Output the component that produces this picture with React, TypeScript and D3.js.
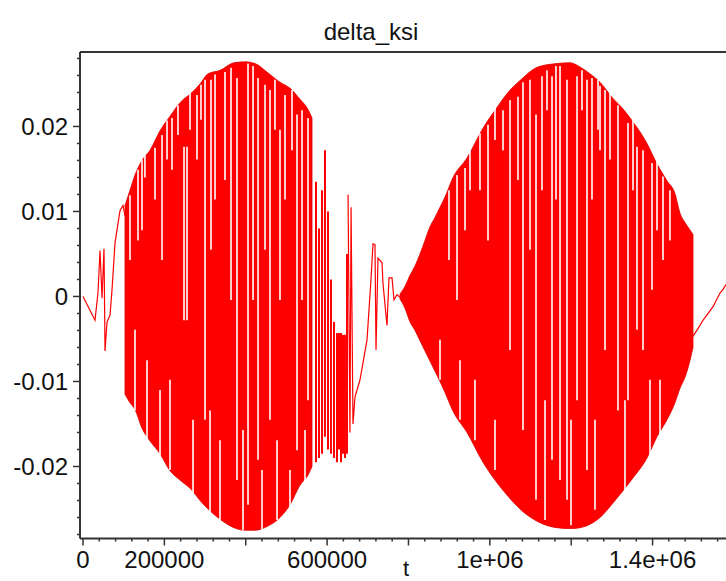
import React from "react";
import * as d3 from "d3";

const W = 726;
const H = 581;

// axis ranges
const T_DOMAIN: [number, number] = [-7400, 1580500];
const V_DOMAIN: [number, number] = [-0.02847, 0.02876];

const TITLE = "delta_ksi";
const X_LABEL = "t";
const yTickValues = [-0.02, -0.01, 0, 0.01, 0.02];
const yTickLabels = ["-0.02", "-0.01", "0", "0.01", "0.02"];
const xTickValues = [0, 200000, 600000, 1000000, 1400000];
const xTickLabels = ["0", "200000", "600000", "1e+06", "1.4e+06"];

// opening wiggle (t, delta_ksi)
const startT = [0, 29500, 36900, 41800, 46700, 51600, 54100, 59000, 66400, 71300, 78700, 90900, 98300, 103200];
const startV = [0, -0.0028, 0.0005, 0.0054, -0.0002, 0.0056, -0.0064, -0.003, -0.0022, 0.0008, 0.0063, 0.0101, 0.0107, 0.0095];

// first oscillation burst: envelope
const leftT = [103200, 115500, 127800, 145000, 164700, 189300, 213800, 238400, 267900, 287600, 307300, 336700, 371200, 398000, 422800, 454700, 484200, 508800, 533400, 553100, 562900];
const leftUpper = [0.0107, 0.0125, 0.0143, 0.016, 0.0172, 0.0195, 0.0212, 0.0228, 0.024, 0.025, 0.0262, 0.0266, 0.0275, 0.0276, 0.0274, 0.0263, 0.0252, 0.0245, 0.0232, 0.022, 0.021];
const leftLower = [-0.0115, -0.0125, -0.0133, -0.0155, -0.017, -0.0185, -0.0205, -0.0216, -0.0228, -0.024, -0.025, -0.0262, -0.0272, -0.0275, -0.0275, -0.027, -0.026, -0.0245, -0.0222, -0.021, -0.02];

// trailing spikes of the first burst
const spikeT = [572700, 580100, 587500, 594800, 602200, 609500, 616900, 624300, 629200, 634100, 639000, 643900, 648900];
const spikeHi = [0.0135, 0.008, 0.0125, 0.0172, 0.01, 0.002, -0.003, -0.0043, -0.0043, -0.0043, -0.0045, -0.0045, 0.005];
const spikeLo = [-0.0195, -0.019, -0.0185, -0.0165, -0.018, -0.0185, -0.019, -0.0195, -0.018, -0.0195, -0.0185, -0.019, -0.0185];

// quiet part between the bursts
const midT = [651500, 656200, 658900, 663600, 668600, 680900, 698100, 707900, 712800, 717700, 720200, 725100, 734900, 737400, 747200, 752100, 759500, 764400, 771800, 779200];
const midV = [0.012, -0.016, 0.0105, -0.015, -0.0118, -0.0098, -0.0051, 0.002, 0.0062, 0.0061, -0.0063, 0.0045, 0.004, 0.0015, -0.0034, 0.0022, 0.0022, -0.0004, 0.0002, -0.0001];

// second oscillation burst: envelope
const rightT = [779200, 791500, 803800, 816100, 828300, 840600, 852900, 865200, 877500, 889800, 909500, 943900, 983200, 1012700, 1044700, 1074100, 1118400, 1165100, 1197000, 1221600, 1246200, 1270800, 1302700, 1324900, 1349400, 1386300, 1410900, 1435500, 1455100, 1467400, 1479700, 1489500, 1499400];
const rightUpper = [0.0003, 0.0012, 0.0025, 0.0036, 0.005, 0.0066, 0.0082, 0.0093, 0.0105, 0.0117, 0.014, 0.0163, 0.0198, 0.0219, 0.024, 0.0254, 0.027, 0.0274, 0.0275, 0.027, 0.0262, 0.0252, 0.0233, 0.0222, 0.0207, 0.018, 0.0156, 0.0136, 0.0121, 0.0098, 0.0087, 0.008, 0.0073];
const rightLower = [-0.0003, -0.0014, -0.003, -0.004, -0.0052, -0.0064, -0.0076, -0.0088, -0.01, -0.0113, -0.0135, -0.016, -0.0195, -0.0216, -0.0235, -0.025, -0.0265, -0.0272, -0.0273, -0.0272, -0.0268, -0.026, -0.0243, -0.023, -0.0215, -0.019, -0.0165, -0.0145, -0.0125, -0.0108, -0.0095, -0.008, -0.006];

// closing slow swing
const endT = [1499400, 1516600, 1524000, 1548600, 1565700, 1573000, 1580500];
const endV = [-0.0047, -0.0034, -0.0028, -0.0012, 0.0004, 0.0008, 0.0014];

// white gaps between the sampled strokes inside the bursts
const slitT = [
  115500, 135200, 145000, 177000, 194200, 218800, 248300, 255600, 280200, 299900, 314600, 324500, 349000, 363800, 378500, 405600, 417900, 430200, 447400, 459600, 484200, 496500, 526000, 538300, 553100,
  127800, 157300, 189300, 213800, 270400, 312200, 336700, 393300, 440000, 476900, 508800, 545700,
  152200, 206500, 233500, 263000, 290000, 471900, 513700,
  899600, 919300, 939000, 975800, 995500, 1032400, 1049600, 1069200, 1081500, 1098700, 1113500, 1128200, 1152800, 1162600, 1172500, 1189700, 1214300, 1226500, 1238800, 1251100, 1270800, 1283100, 1295400, 1315000, 1339600, 1361700, 1376500, 1398600, 1425600, 1442800,
  877500, 926700, 963500, 1012700, 1135600, 1199500, 1258500, 1332200, 1393700, 1418300,
  951200, 1012700, 1140500, 1265900, 1351900, 1410900,
];
const slitHi = [
  0.0119, 0.0149, 0.0161, 0.0175, 0.019, 0.021, 0.0176, 0.0176, 0.0237, 0.0255, 0.0255, 0.0261, 0.0264, 0.0269, 0.0257, 0.0274, 0.0271, 0.0257, 0.0249, 0.0243, 0.0196, 0.0237, 0.0214, 0.0219, 0.021,
  -0.0039, -0.0075, -0.011, -0.0098, -0.0145, -0.0134, -0.0169, -0.0157, -0.0204, -0.0169, -0.0204, -0.0157,
  0.017, 0.0207, 0.0225, 0.024, 0.0249, 0.0255, 0.0243,
  0.0125, 0.0143, 0.0151, 0.0192, 0.0202, 0.0219, 0.0231, 0.0235, 0.0252, 0.0255, 0.0214, 0.0259, 0.0259, 0.0271, 0.0271, 0.0255, 0.0259, 0.0266, 0.0255, 0.0257, 0.0248, 0.0243, 0.0239, 0.0225, 0.0204, 0.0176, 0.0172, 0.0157, 0.0141, 0.0125,
  -0.0051, -0.0075, -0.0098, -0.0145, -0.0122, -0.0145, -0.0145, -0.0122, -0.0098, -0.0098,
  0.0172, 0.0225, 0.0266, 0.0255, 0.0208, 0.016,
];
const slitLo = [
  0.0043, 0.0066, 0.0078, 0.0114, 0.0043, 0.0149, -0.0028, -0.0028, 0.0161, -0.0145, 0.0055, 0.0114, 0.0137, -0.0004, -0.0216, -0.0245, -0.0004, -0.0192, 0.0055, -0.0145, -0.0004, 0.0114, -0.0181, -0.0004, -0.0122,
  -0.0134, -0.0169, -0.0192, -0.0204, -0.0234, -0.0263, -0.0269, -0.0275, -0.0275, -0.0263, -0.0251, -0.0234,
  0.014, 0.0161, 0.019, 0.0196, 0.0208, 0.0196, 0.0172,
  0.0043, -0.0004, 0.0078, 0.0125, 0.0066, 0.0172, -0.0063, 0.0137, -0.0157, 0.0055, -0.0239, 0.0125, -0.0192, 0.0114, -0.0216, -0.0239, -0.0122, 0.0219, -0.0204, 0.0114, 0.0172, -0.0063, 0.0161, -0.0134, -0.0122, -0.0039, -0.0063, 0.0008, 0.0043, 0.0066,
  -0.0098, -0.0145, -0.0169, -0.0204, -0.0263, -0.0269, -0.0251, -0.0228, -0.0186, -0.0169,
  0.0125, 0.0184, 0.0219, 0.0196, 0.0125, 0.0078,
];

const RED = "#ff0000";
const AXIS = "#333333";
const FONT = "'Liberation Sans', Arial, sans-serif";

export default function App() {
  const x = d3.scaleLinear().domain(T_DOMAIN).range([80, 726]);
  const y = d3.scaleLinear().domain(V_DOMAIN).range([538.5, 52]);
  const left = 80;
  const right = 726;
  const top = 52;
  const bottom = 538.5;

  const mkLine = (ts: number[], vs: number[]) =>
    d3
      .line<number>()
      .x((i) => x(ts[i]))
      .y((i) => y(vs[i]))(d3.range(ts.length)) || "";

  const mkArea = (ts: number[], up: number[], lo: number[]) =>
    d3
      .area<number>()
      .x((i) => x(ts[i]))
      .y0((i) => y(lo[i]))
      .y1((i) => y(up[i]))
      .curve(d3.curveMonotoneX)(d3.range(ts.length)) || "";

  const yMinor = d3.range(-14, 15).map((i) => i * 0.002);
  const xMinor = d3.range(0, 40).map((i) => i * 40000);

  return (
    <svg
      width={W}
      height={H}
      style={{ position: "absolute", left: 0, top: 0, display: "block", background: "#fff" }}
      fontFamily={FONT}
    >
      <rect x={0} y={0} width={W} height={H} fill="#fff" />
      <text x={371} y={40} fontSize={24} textAnchor="middle" fill="#111">
        {TITLE}
      </text>

      {/* bursts */}
      <path d={mkArea(leftT, leftUpper, leftLower)} fill={RED} stroke="#e00000" strokeWidth={0.8} />
      <path d={mkArea(rightT, rightUpper, rightLower)} fill={RED} stroke="#e00000" strokeWidth={0.8} />
      {slitT.map((t, i) => (
        <line
          key={"s" + i}
          x1={x(t)}
          x2={x(t)}
          y1={y(slitHi[i])}
          y2={y(slitLo[i])}
          stroke="#fff"
          strokeWidth={1.6}
        />
      ))}
      {spikeT.map((t, i) => (
        <line
          key={"k" + i}
          x1={x(t)}
          x2={x(t)}
          y1={y(spikeHi[i])}
          y2={y(spikeLo[i])}
          stroke={RED}
          strokeWidth={2}
        />
      ))}
      <path d={mkLine(startT, startV)} fill="none" stroke={RED} strokeWidth={1.2} />
      <path d={mkLine(midT, midV)} fill="none" stroke={RED} strokeWidth={1.2} />
      <path d={mkLine(endT, endV)} fill="none" stroke={RED} strokeWidth={1.2} />

      {/* frame */}
      <line x1={left} x2={right} y1={top} y2={top} stroke={AXIS} strokeWidth={2} />
      <line x1={left} x2={left} y1={top} y2={bottom} stroke={AXIS} strokeWidth={2} />
      <line x1={left} x2={right} y1={bottom} y2={bottom} stroke={AXIS} strokeWidth={2} />

      {/* y ticks */}
      {yMinor.map((v, i) => {
        const major = Math.round(v / 0.002) % 5 === 0;
        return (
          <line
            key={"yt" + i}
            x1={left}
            x2={left - (major ? 7 : 3)}
            y1={y(v)}
            y2={y(v)}
            stroke={AXIS}
            strokeWidth={1.5}
          />
        );
      })}
      {yTickValues.map((v, i) => (
        <text key={"yl" + i} x={68} y={y(v)} dy="0.36em" fontSize={24} textAnchor="end" fill="#111">
          {yTickLabels[i]}
        </text>
      ))}

      {/* x ticks */}
      {xMinor.map((t, i) => {
        const major = i % 5 === 0;
        return (
          <line
            key={"xt" + i}
            x1={x(t)}
            x2={x(t)}
            y1={bottom}
            y2={bottom + (major ? 7 : 3)}
            stroke={AXIS}
            strokeWidth={1.5}
          />
        );
      })}
      {xTickValues.map((t, i) => (
        <text key={"xl" + i} x={x(t)} y={568} fontSize={24} textAnchor="middle" fill="#111">
          {xTickLabels[i]}
        </text>
      ))}
      <text x={406} y={576} fontSize={22} textAnchor="middle" fill="#111">
        {X_LABEL}
      </text>
    </svg>
  );
}
